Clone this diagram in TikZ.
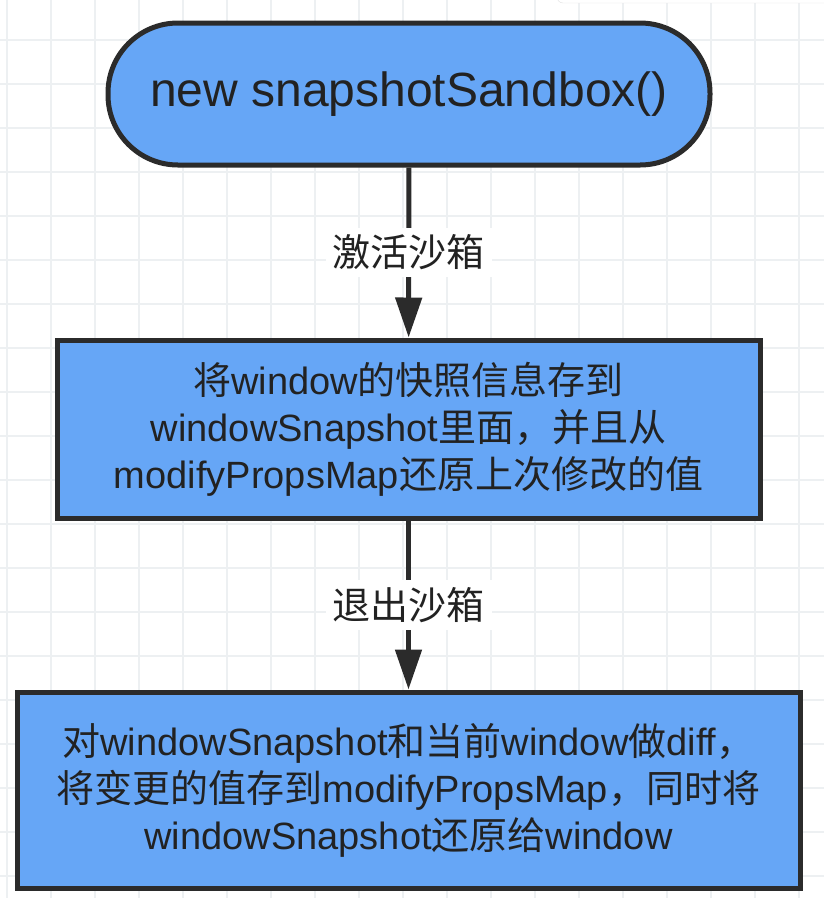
\documentclass[tikz,border=0pt]{standalone}
\usepackage{fontspec}
\setmainfont{Liberation Sans}
\newfontfamily\cjk{Noto Sans CJK SC}
\newcommand{\zh}[1]{{\cjk #1}}
\usetikzlibrary{arrows.meta,positioning}

\definecolor{boxblue}{HTML}{66A6F6}
\definecolor{edgegray}{HTML}{2B2B2B}
\definecolor{textgray}{HTML}{222222}
\definecolor{gridgray}{HTML}{EDF0F2}

\begin{document}
\begin{tikzpicture}[x=1pt,y=-1pt,
  start/.style={draw=edgegray,line width=5pt,fill=boxblue,rounded corners=70pt,minimum width=602pt,minimum height=142pt,inner sep=0pt,text=textgray,font=\fontsize{48}{56}\selectfont},
  block/.style={draw=edgegray,line width=5pt,fill=boxblue,align=center,inner sep=0pt,text=textgray,font=\fontsize{38}{47}\selectfont},
  lbl/.style={fill=white,inner sep=7pt,text=textgray,font=\fontsize{38}{47}\selectfont},
  arr/.style={-{Triangle[length=40pt,width=26pt]},line width=5pt,draw=edgegray}
]
\useasboundingbox (0,0) rectangle (824,898);
\fill[white] (0,0) rectangle (824,898);

% background grid
\foreach \gx in {7,51,...,799} \draw[gridgray,line width=1.5pt] (\gx,0) -- (\gx,898);
\foreach \gy in {40,84,...,876} \draw[gridgray,line width=1.5pt] (0,\gy) -- (824,\gy);

% panel edge at the top right
\draw[black!12,fill=white,rounded corners=6pt] (557,-20) rectangle (840,3);

% flow: create, activate, exit
\node[start] (create) at (409,94) {new snapshotSandbox()};
\node[block,minimum width=703pt,minimum height=178pt] (active) at (408.5,429)
  {\zh{将}window\zh{的快照信息存到}\\windowSnapshot\zh{里面，并且从}\\modifyPropsMap\zh{还原上次修改的值}};
\node[block,minimum width=783pt,minimum height=196pt] (inactive) at (408.5,790)
  {\zh{对}windowSnapshot\zh{和当前}window\zh{做}diff\zh{，}\\\zh{将变更的值存到}modifyPropsMap\zh{，同时将}\\windowSnapshot\zh{还原给}window};

\draw[arr] (create) -- (active) node[midway,lbl]{\zh{激活沙箱}};
\draw[arr] (active) -- (inactive) node[midway,lbl]{\zh{退出沙箱}};
\end{tikzpicture}
\end{document}
